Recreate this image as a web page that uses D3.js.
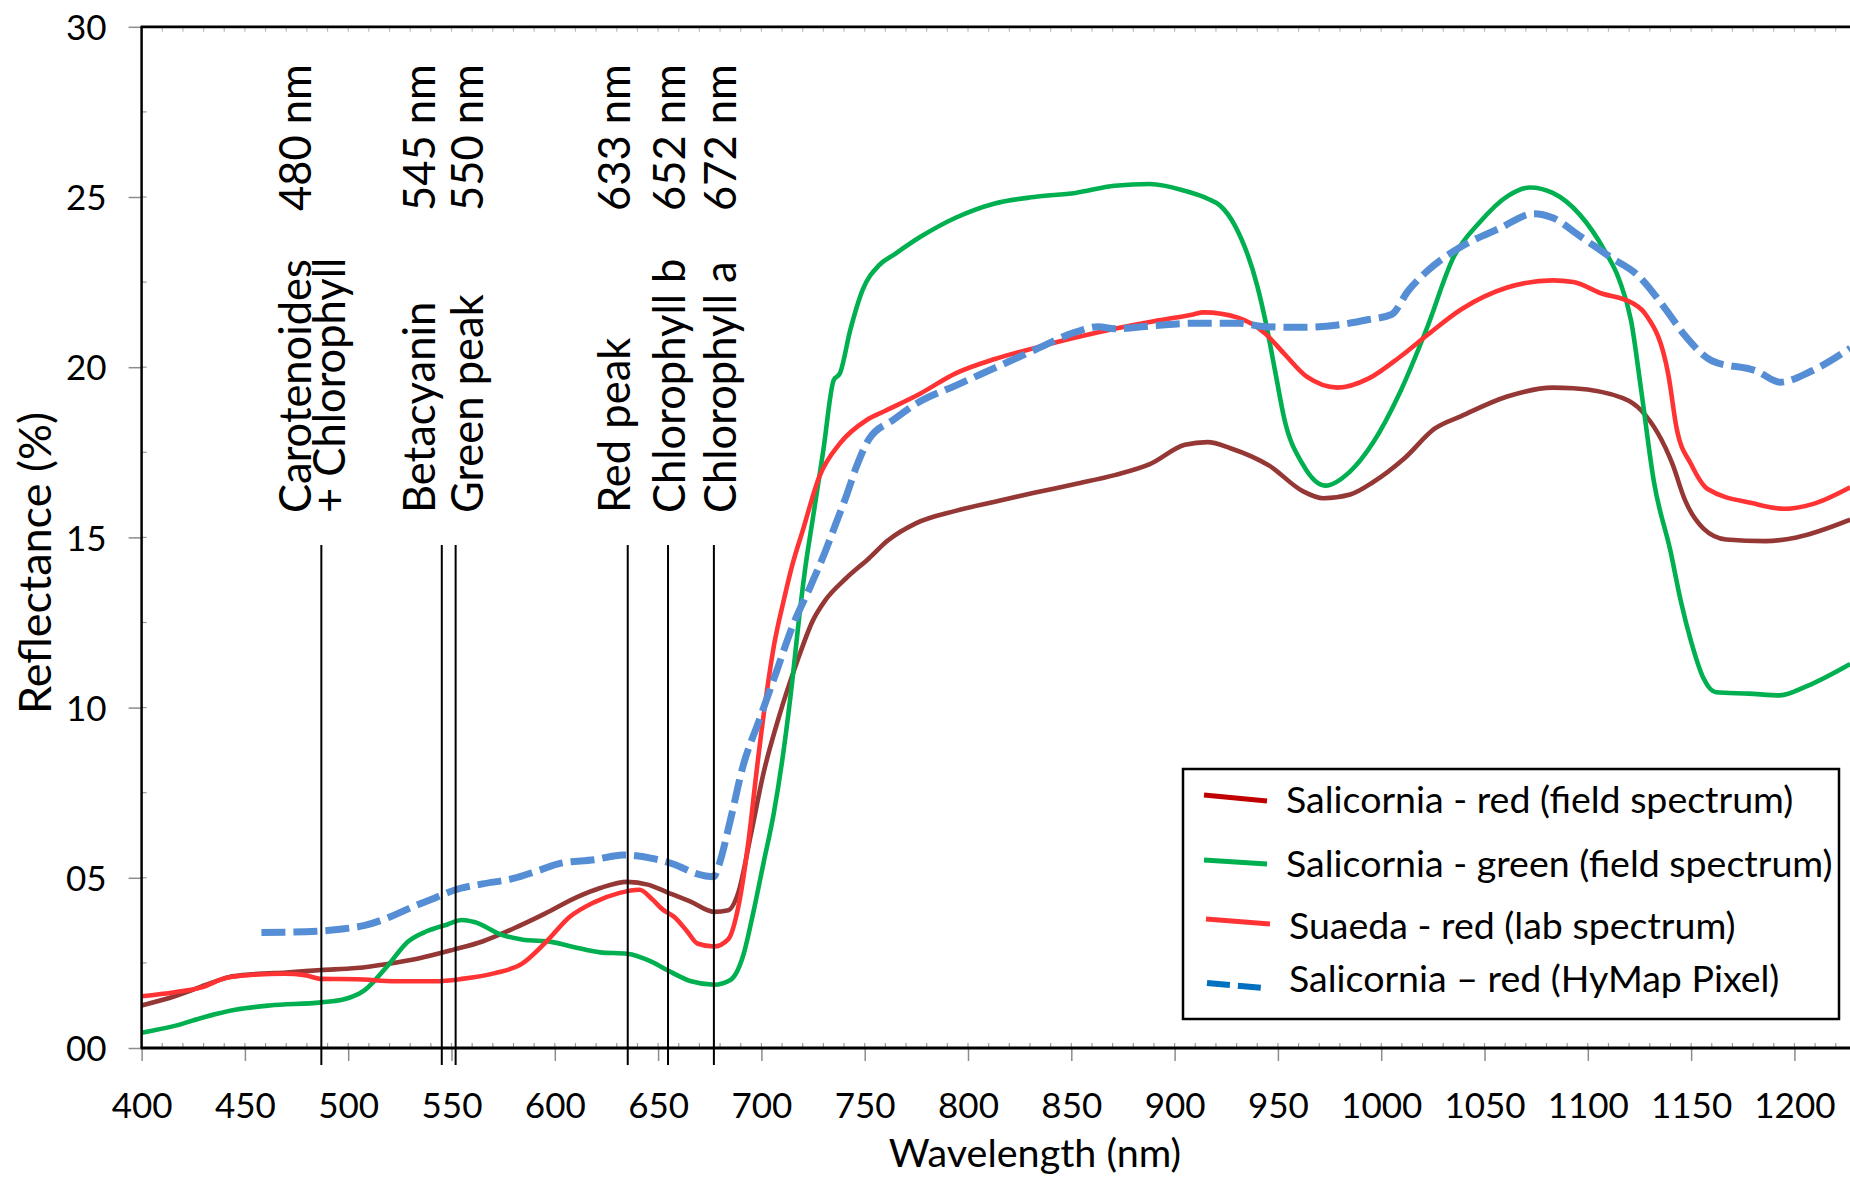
<!DOCTYPE html>
<html>
<head>
<meta charset="utf-8">
<script src="https://cdn.jsdelivr.net/npm/d3@7"></script>
<style>
  html, body { margin: 0; padding: 0; background: #fff; }
  svg { display: block; }
  text { font-family: Lato, "Open Sans", sans-serif; fill: #000; }
</style>
</head>
<body>
<svg id="chart" width="1850" height="1177"></svg>
<script>
// ---------------- DATA ----------------
const xTickValues = [400, 450, 500, 550, 600, 650, 700, 750, 800, 850, 900, 950, 1000, 1050, 1100, 1150, 1200];
const yTickValues = [0, 5, 10, 15, 20, 25, 30];
const yTickLabels = ["00", "05", "10", "15", "20", "25", "30"];

const seriesNames = [
  "Salicornia - red (field spectrum)",
  "Salicornia - green (field spectrum)",
  "Suaeda - red (lab spectrum)",
  "Salicornia \u2013 red (HyMap Pixel)"
];

// [wavelength nm, reflectance %]
const salicorniaRed = [
  [400,1.25],[416,1.52],[431,1.85],[442,2.08],[455,2.17],[470,2.22],[487,2.29],[504,2.35],[519,2.47],
  [534,2.63],[551,2.89],[565,3.13],[580,3.51],[595,3.94],[611,4.44],[622,4.7],[635,4.88],[645,4.8],
  [655,4.56],[666,4.29],[677,4.0],[684,4.05],[689,4.6],[695,6.3],[701,8.07],[709,9.83],[717,11.3],
  [725,12.57],[731,13.16],[741,13.8],[752,14.38],[761,14.9],[775,15.42],[794,15.78],[813,16.05],
  [832,16.31],[852,16.57],[871,16.83],[888,17.15],[905,17.72],[916,17.8],[927,17.62],[946,17.1],
  [962,16.36],[972,16.15],[985,16.26],[996,16.62],[1011,17.31],[1026,18.2],[1039,18.57],[1061,19.14],
  [1083,19.4],[1093,19.38],[1117,19.09],[1126,18.72],[1141,17.15],[1147,16.1],[1156,15.26],
  [1167,14.94],[1186,14.89],[1201,15.0],[1227,15.52]
];

const salicorniaGreen = [
  [400,0.45],[416,0.65],[431,0.92],[446,1.13],[462,1.25],[487,1.34],[498,1.43],[508,1.7],[519,2.41],
  [529,3.13],[538,3.43],[548,3.63],[555,3.76],[561,3.7],[575,3.31],[584,3.19],[599,3.11],[609,2.97],
  [622,2.81],[635,2.77],[647,2.53],[655,2.27],[666,1.96],[677,1.86],[685,2.0],[691,2.68],[696,3.96],
  [701,5.43],[706,6.9],[711,8.85],[715,10.81],[718,12.5],[721,14.0],[725,15.6],[730,17.57],[735,19.62],
  [738,19.82],[743,21.09],[749,22.27],[757,23.0],[764,23.3],[777,23.83],[794,24.39],[813,24.81],
  [832,25.0],[852,25.12],[871,25.33],[888,25.38],[905,25.18],[916,24.95],[922,24.75],[929,24.18],
  [940,22.39],[944,21.35],[949,19.77],[953,18.51],[962,17.15],[973,16.52],[985,16.94],[996,17.78],
  [1009,19.25],[1022,21.13],[1035,23.23],[1048,24.28],[1061,25.02],[1072,25.28],[1083,25.12],
  [1096,24.49],[1108,23.44],[1115,22.6],[1121,21.35],[1126,19.25],[1132,16.63],[1140,14.6],
  [1145,13.13],[1150,11.94],[1156,10.86],[1162,10.45],[1178,10.41],[1193,10.36],[1206,10.63],[1227,11.28]
];

const suaedaRed = [
  [400,1.52],[416,1.64],[429,1.78],[441,2.06],[454,2.15],[469,2.18],[479,2.14],[487,2.03],[504,2.02],
  [523,1.96],[542,1.96],[555,2.03],[571,2.2],[584,2.47],[596,3.13],[607,3.84],[619,4.28],[631,4.55],
  [641,4.65],[647,4.38],[652,4.08],[658,3.84],[664,3.43],[669,3.07],[677,2.98],[684,3.2],[689,4.2],
  [694,6.2],[698,8.3],[702,10.2],[706,11.8],[711,13.2],[715,14.2],[720,15.2],[728,16.78],[738,17.76],
  [751,18.45],[760,18.72],[777,19.23],[794,19.82],[813,20.24],[832,20.56],[852,20.87],[871,21.13],
  [890,21.35],[909,21.55],[914,21.61],[931,21.45],[944,20.98],[953,20.4],[964,19.72],[979,19.4],
  [994,19.67],[1009,20.3],[1022,20.93],[1039,21.71],[1061,22.34],[1083,22.55],[1093,22.5],
  [1106,22.18],[1122,21.87],[1128,21.55],[1139,19.77],[1143,18.2],[1150,17.15],[1158,16.42],
  [1180,16.0],[1195,15.84],[1210,16.0],[1227,16.47]
];

const hymapPixel = [
  [458,3.39],[485,3.43],[496,3.49],[508,3.6],[519,3.82],[531,4.14],[542,4.41],[552,4.65],[565,4.82],
  [580,4.98],[592,5.21],[603,5.43],[619,5.53],[633,5.67],[647,5.57],[658,5.39],[668,5.13],[677,5.03],
  [679,5.3],[685,6.7],[691,8.26],[699,9.64],[707,11.01],[715,12.38],[724,13.6],[731,14.6],[736,15.4],
  [741,16.2],[746,17.08],[752,17.88],[764,18.46],[775,18.93],[794,19.46],[813,19.98],[832,20.5],
  [852,21.03],[863,21.19],[871,21.13],[890,21.22],[909,21.29],[931,21.29],[944,21.19],[962,21.17],
  [979,21.24],[994,21.4],[1005,21.55],[1013,22.24],[1022,22.81],[1039,23.55],[1057,24.07],[1074,24.51],
  [1083,24.39],[1096,23.86],[1111,23.23],[1124,22.71],[1137,21.76],[1147,20.93],[1160,20.19],
  [1182,19.88],[1193,19.56],[1208,19.88],[1227,20.56]
];

// annotation marker lines (wavelength where drawn) and their labels
const markerLineNm = [487, 545.3, 552, 635.3, 654.8, 677];
const markerTopY = 14.78;
const markerNmLabels = ["480 nm", "545 nm", "550 nm", "633 nm", "652 nm", "672 nm"];
const markerNames = [["Carotenoides", "+ Chlorophyll"], ["Betacyanin"], ["Green peak"], ["Red peak"], ["Chlorophyll b"], ["Chlorophyll a"]];

// ---------------- DRAWING ----------------
const svg = d3.select("#chart");
const L = 141.6, R = 1850.2, T = 26.8, B = 1048;
const x = d3.scaleLinear().domain([400, 1227]).range([L, R]);
const y = d3.scaleLinear().domain([0, 30]).range([B, T]);

const styles = [
  { data: salicorniaRed,   color: "#953735", width: 4.6, dash: null,   legendColor: "#C00000" },
  { data: salicorniaGreen, color: "#00B050", width: 4.6, dash: null,   legendColor: "#00B050" },
  { data: suaedaRed,       color: "#FF3333", width: 4.6, dash: null,   legendColor: "#FF3333" },
  { data: hymapPixel,      color: "#558ED5", width: 7,   dash: "24,8", legendColor: "#0070C0" }
];

svg.append("defs").append("clipPath").attr("id", "plotclip")
  .append("rect").attr("x", L).attr("y", T - 5).attr("width", R - L).attr("height", B - T + 5);

// minor ticks
const minorX = d3.range(400, 1230, 10);
const minorY = d3.range(0, 30.01, 2.5);
const tickG = svg.append("g");
tickG.selectAll(".mxb").data(minorX).join("line")
  .attr("x1", d => x(d)).attr("x2", d => x(d)).attr("y1", B).attr("y2", B - 5)
  .attr("stroke", "#9a9a9a").attr("stroke-width", 1.2);
tickG.selectAll(".mxt").data(minorX).join("line")
  .attr("x1", d => x(d)).attr("x2", d => x(d)).attr("y1", T).attr("y2", T + 5)
  .attr("stroke", "#bbbbbb").attr("stroke-width", 1.2);
tickG.selectAll(".my").data(minorY).join("line")
  .attr("x1", L).attr("x2", L + 5).attr("y1", d => y(d)).attr("y2", d => y(d))
  .attr("stroke", "#9a9a9a").attr("stroke-width", 1.2);

// major axes
const xAxis = d3.axisBottom(x).tickValues(xTickValues).tickSize(13).tickFormat(d3.format("d"));
const gx = svg.append("g").attr("transform", `translate(0,${B})`).call(xAxis);
gx.select(".domain").remove();
gx.selectAll(".tick line").attr("stroke", "#8c8c8c").attr("stroke-width", 1.5);
gx.selectAll(".tick text").attr("dy", null).attr("y", 70)
  .style("font-family", "Lato, sans-serif").style("font-size", "35px").attr("fill", "#000");

const yAxis = d3.axisLeft(y).tickValues(yTickValues).tickSize(13).tickFormat((d, i) => yTickLabels[i]);
const gy = svg.append("g").attr("transform", `translate(${L},0)`).call(yAxis);
gy.select(".domain").remove();
gy.selectAll(".tick line").attr("stroke", "#8c8c8c").attr("stroke-width", 1.5);
gy.selectAll(".tick text").attr("x", -35).attr("dy", "0.36em")
  .style("font-family", "Lato, sans-serif").style("font-size", "35px").attr("fill", "#000");

// series
const line = d3.line().x(d => x(d[0])).y(d => y(d[1])).curve(d3.curveMonotoneX);
const plotG = svg.append("g").attr("clip-path", "url(#plotclip)");
styles.forEach(s => {
  plotG.append("path").datum(s.data)
    .attr("d", line).attr("fill", "none")
    .attr("stroke", s.color).attr("stroke-width", s.width)
    .attr("stroke-linejoin", "round")
    .attr("stroke-dasharray", s.dash);
});

// axis frame lines
svg.append("line").attr("x1", L).attr("x2", L).attr("y1", T).attr("y2", B)
  .attr("stroke", "#000").attr("stroke-width", 2.5);
svg.append("line").attr("x1", L - 1).attr("x2", R).attr("y1", B).attr("y2", B)
  .attr("stroke", "#000").attr("stroke-width", 2.8);
svg.append("line").attr("x1", L - 1).attr("x2", R).attr("y1", T).attr("y2", T)
  .attr("stroke", "#000").attr("stroke-width", 2.8);

// marker lines
svg.selectAll(".marker").data(markerLineNm).join("line")
  .attr("x1", d => x(d)).attr("x2", d => x(d))
  .attr("y1", y(markerTopY)).attr("y2", B + 17)
  .attr("stroke", "#000").attr("stroke-width", 2);

// marker labels (rotated)
const labelBaseX = [311, 435, 483, 630, 685, 736];
const annG = svg.append("g").style("font-size", "43.5px");
markerNmLabels.forEach((t, i) => {
  annG.append("text")
    .attr("transform", `translate(${labelBaseX[i]},211) rotate(-90)`)
    .text(t);
  markerNames[i].forEach((n, j) => {
    annG.append("text")
      .attr("transform", `translate(${labelBaseX[i] - j * 2 + j * 36},513) rotate(-90)`)
      .text(n);
  });
});

// axis titles
svg.append("text").attr("x", 1035).attr("y", 1167).attr("text-anchor", "middle")
  .style("font-size", "39.5px").text("Wavelength (nm)");
svg.append("text").attr("transform", "translate(51,563) rotate(-90)").attr("text-anchor", "middle")
  .style("font-size", "45px").text("Reflectance (%)");

// legend
const lg = svg.append("g");
lg.append("rect").attr("x", 1183).attr("y", 769).attr("width", 656).attr("height", 250)
  .attr("fill", "#fff").attr("stroke", "#000").attr("stroke-width", 2.5);
const rowSample = [[1204, 795, 1267, 801], [1204, 860, 1267, 864], [1206, 919, 1270, 924], [1207, 983, 1263, 988]];
const rowText = [[1286, 813], [1286, 876.5], [1289, 938.5], [1289, 992]];
styles.forEach((s, i) => {
  const r = rowSample[i];
  lg.append("line").attr("x1", r[0]).attr("y1", r[1]).attr("x2", r[2]).attr("y2", r[3])
    .attr("stroke", s.legendColor).attr("stroke-width", i === 3 ? 6 : 5)
    .attr("stroke-dasharray", i === 3 ? "23,8" : null);
  lg.append("text").attr("x", rowText[i][0]).attr("y", rowText[i][1])
    .style("font-size", "37.5px").text(seriesNames[i]);
});
</script>
</body>
</html>
